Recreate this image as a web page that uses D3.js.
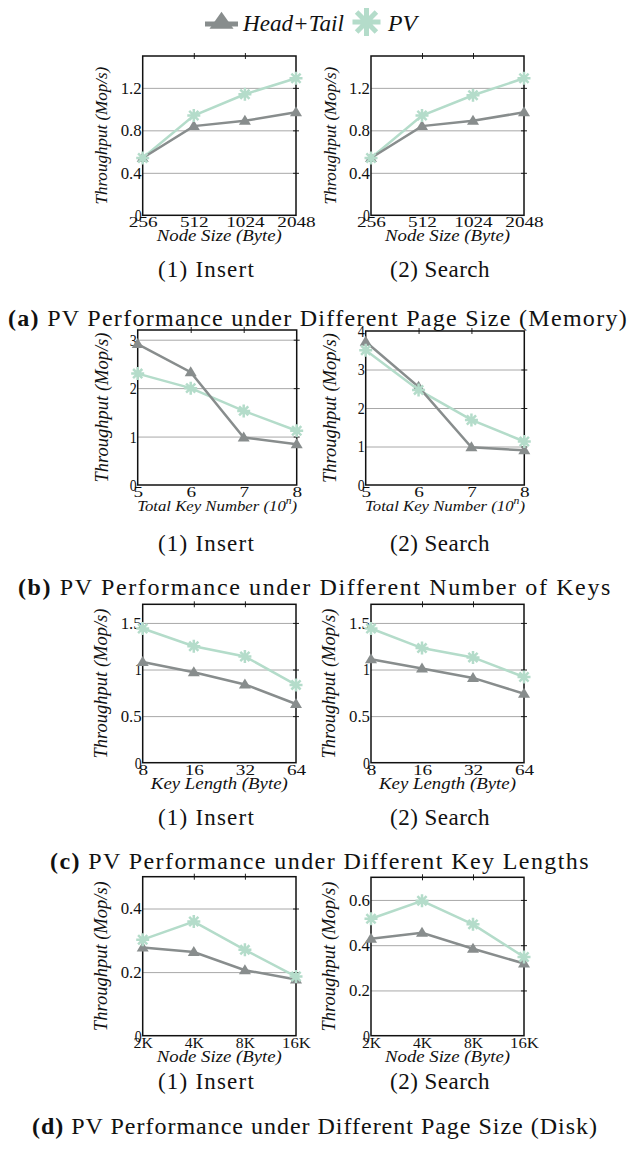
<!DOCTYPE html>
<html>
<head>
<meta charset="utf-8">
<script src="https://cdn.jsdelivr.net/npm/d3@7"></script>
<style>
  body { margin: 0; background: #fff; }
  text { font-family: "Liberation Serif", "DejaVu Serif", serif; fill: #111; }
</style>
</head>
<body>
<svg id="fig" width="632" height="1149"></svg>
<script>
// categories
const nodeSizesMem = ["256", "512", "1024", "2048"];
const keyExponents = ["5", "6", "7", "8"];
const keyLengths = ["8", "16", "32", "64"];
const nodeSizesDisk = ["2K", "4K", "8K", "16K"];

// series values (Mop/s)
const memInsertHT = [0.54, 0.84, 0.89, 0.97];
const memInsertPV = [0.54, 0.94, 1.14, 1.29];
const memSearchHT = [0.54, 0.84, 0.89, 0.97];
const memSearchPV = [0.54, 0.94, 1.13, 1.29];
const keysInsertHT = [2.91, 2.33, 0.98, 0.84];
const keysInsertPV = [2.3, 2.0, 1.53, 1.12];
const keysSearchHT = [3.72, 2.55, 0.98, 0.9];
const keysSearchPV = [3.5, 2.47, 1.69, 1.13];
const lenInsertHT = [1.08, 0.97, 0.84, 0.63];
const lenInsertPV = [1.44, 1.25, 1.14, 0.835];
const lenSearchHT = [1.11, 1.01, 0.91, 0.74];
const lenSearchPV = [1.44, 1.23, 1.13, 0.92];
const diskInsertHT = [0.277, 0.263, 0.206, 0.177];
const diskInsertPV = [0.302, 0.359, 0.27, 0.186];
const diskSearchHT = [0.428, 0.455, 0.384, 0.319];
const diskSearchPV = [0.517, 0.596, 0.492, 0.348];

// y tick labels
const memTicks = [0, 0.4, 0.8, 1.2];
const keysInsertTicks = [0, 1, 2, 3];
const keysSearchTicks = [0, 1, 2, 3, 4];
const lenTicks = [0, 0.5, 1, 1.5];
const diskInsertTicks = [0, 0.2, 0.4];
const diskSearchTicks = [0, 0.2, 0.4, 0.6];

const GRAY = "#888d8d";
const GREEN = "#b4dcca";

const svg = d3.select("#fig");

// scale font size so a text fills a given width
function fitWidth(sel, target) {
  const len = sel.node().getComputedTextLength();
  const fs = parseFloat(sel.attr("font-size"));
  sel.attr("font-size", fs * target / len);
}
// grow the font up to maxSize, then spread letters for the rest
function fitCaption(sel, target, maxSize) {
  fitWidth(sel, target);
  if (parseFloat(sel.attr("font-size")) > maxSize) {
    sel.attr("font-size", maxSize);
    const len = sel.node().getComputedTextLength();
    sel.attr("letter-spacing", (target - len) / sel.text().length);
  }
}

function asterisk(r) {
  const k = r * 0.7071;
  return `M${-r},0L${r},0M0,${-r}L0,${r}M${-k},${-k}L${k},${k}M${-k},${k}L${k},${-k}`;
}
function triangle(w, h) {
  return `M0,${-h * 0.6}L${w / 2},${h * 0.4}L${-w / 2},${h * 0.4}Z`;
}

// legend
const leg = svg.append("g");
leg.append("line").attr("x1", 205).attr("x2", 238).attr("y1", 24).attr("y2", 24)
  .attr("stroke", GRAY).attr("stroke-width", 5);
leg.append("path").attr("d", triangle(24, 17)).attr("transform", "translate(221.5,22)").attr("fill", GRAY);
leg.append("path").attr("d", asterisk(14)).attr("transform", "translate(366.5,22)")
  .attr("stroke", GREEN).attr("stroke-width", 5).attr("fill", "none");
let t = leg.append("text").attr("x", 243).attr("y", 31).attr("font-size", 22)
  .attr("font-style", "italic").text("Head+Tail");
fitWidth(t, 101);
t = leg.append("text").attr("x", 388).attr("y", 31).attr("font-size", 22)
  .attr("font-style", "italic").text("PV");
fitWidth(t, 29);

function panel(cfg) {
  const g = svg.append("g");
  const x = d3.scalePoint().domain(cfg.cats).range([cfg.left, cfg.right]);
  const y = d3.scaleLinear().domain([0, cfg.max]).range([cfg.bottom, cfg.top]);
  const w = cfg.right - cfg.left;
  const inner = cfg.ticks.filter(v => v > 0 && v < cfg.max);

  // grid
  g.append("g").attr("transform", `translate(${cfg.left},0)`)
    .call(d3.axisRight(y).tickValues(inner).tickSize(w).tickFormat(""))
    .call(a => a.select(".domain").remove())
    .call(a => a.selectAll("line").attr("stroke", "#a8a8a8").attr("stroke-width", 1));

  // right ticks
  g.append("g").attr("transform", `translate(${cfg.right - 3},0)`)
    .call(d3.axisRight(y).tickValues(inner).tickSize(6).tickFormat(""))
    .call(a => a.select(".domain").remove())
    .call(a => a.selectAll("line").attr("stroke", "#222").attr("stroke-width", 1));
  // top ticks
  g.append("g").attr("transform", `translate(0,${cfg.top + 3})`)
    .call(d3.axisTop(x).tickValues(cfg.cats.slice(1, -1)).tickSize(6).tickFormat(""))
    .call(a => a.select(".domain").remove())
    .call(a => a.selectAll("line").attr("stroke", "#222").attr("stroke-width", 1));

  // y tick labels
  g.append("g").attr("transform", `translate(${cfg.left},0)`)
    .call(d3.axisLeft(y).tickValues(cfg.ticks).tickSize(0).tickPadding(1).tickFormat(d => String(d)))
    .call(a => a.select(".domain").remove())
    .call(a => a.selectAll("text").attr("font-family", "Liberation Serif").attr("font-size", 17)
      .attr("fill", "#111").attr("textLength", d => String(d).length * 7).attr("lengthAdjust", "spacingAndGlyphs"));

  // x tick labels
  g.append("g").attr("transform", `translate(0,${cfg.bottom})`)
    .call(d3.axisBottom(x).tickSize(0).tickPadding(1))
    .call(a => a.select(".domain").remove())
    .call(a => a.selectAll("text").attr("font-family", "Liberation Serif").attr("font-size", 15.5)
      .attr("fill", "#111").attr("textLength", d => d.length * 9.6).attr("lengthAdjust", "spacingAndGlyphs"));

  // frame
  g.append("rect").attr("x", cfg.left).attr("y", cfg.top).attr("width", w)
    .attr("height", cfg.bottom - cfg.top).attr("fill", "none").attr("stroke", "#111").attr("stroke-width", 1.5);

  // axis titles
  const yl = g.append("text")
    .attr("transform", `translate(${cfg.left - cfg.ylabOff},${(cfg.top + cfg.bottom) / 2}) rotate(-90)`)
    .attr("text-anchor", "middle").attr("font-style", "italic").attr("font-size", 16)
    .text("Throughput (Mop/s)");
  fitWidth(yl, cfg.ylabW);

  const xl = g.append("text").attr("x", (cfg.left + cfg.right) / 2).attr("y", cfg.bottom + 26)
    .attr("text-anchor", "middle").attr("font-style", "italic").attr("font-size", cfg.xlabSize);
  if (cfg.xlab === "keys") {
    xl.append("tspan").text("Total Key Number (10");
    xl.append("tspan").attr("font-size", cfg.xlabSize * 0.7).attr("dy", -7).text("n");
    xl.append("tspan").attr("dy", 7).text(")");
  } else {
    xl.text(cfg.xlab);
  }
  xl.attr("textLength", cfg.xlabW).attr("lengthAdjust", "spacingAndGlyphs");

  const line = d3.line().x((d, i) => x(cfg.cats[i])).y(d => y(d));
  g.append("path").datum(cfg.pv).attr("d", line).attr("fill", "none")
    .attr("stroke", GREEN).attr("stroke-width", 2.5);
  g.append("path").datum(cfg.ht).attr("d", line).attr("fill", "none")
    .attr("stroke", GRAY).attr("stroke-width", 2.5);

  g.selectAll(".tri").data(cfg.ht).enter().append("path")
    .attr("d", triangle(12, 10))
    .attr("transform", (d, i) => `translate(${x(cfg.cats[i])},${y(d)})`)
    .attr("fill", GRAY);
  g.selectAll(".ast").data(cfg.pv).enter().append("path")
    .attr("d", asterisk(6.5))
    .attr("transform", (d, i) => `translate(${x(cfg.cats[i])},${y(d)})`)
    .attr("fill", "none").attr("stroke", GREEN).attr("stroke-width", 2.5);
}

function captions(subY, capY, capText, capBold, capCx, capW) {
  let s = svg.append("text").attr("x", 206.5).attr("y", subY).attr("text-anchor", "middle")
    .attr("font-size", 19).text("(1) Insert");
  fitCaption(s, 97, 23);
  s = svg.append("text").attr("x", 440).attr("y", subY).attr("text-anchor", "middle")
    .attr("font-size", 19).text("(2) Search");
  fitCaption(s, 100, 23);
  const c = svg.append("text").attr("x", capCx).attr("y", capY).attr("text-anchor", "middle")
    .attr("font-size", 19);
  c.append("tspan").attr("font-weight", "bold").text(capBold);
  c.append("tspan").text(" " + capText);
  fitCaption(c, capW, 24);
}

const L = [142.7, 296], R = [371, 524];

// (a) memory page size
panel({ cats: nodeSizesMem, ht: memInsertHT, pv: memInsertPV, ticks: memTicks, max: 1.5,
  left: L[0], right: L[1], top: 56, bottom: 215.3, ylabOff: 36, ylabW: 138,
  xlab: "Node Size (Byte)", xlabSize: 17, xlabW: 125 });
panel({ cats: nodeSizesMem, ht: memSearchHT, pv: memSearchPV, ticks: memTicks, max: 1.5,
  left: R[0], right: R[1], top: 56, bottom: 215.3, ylabOff: 35, ylabW: 138,
  xlab: "Node Size (Byte)", xlabSize: 17, xlabW: 125 });
captions(277, 326, "PV Performance under Different Page Size (Memory)", "(a)", 318, 620);

// (b) number of keys
panel({ cats: keyExponents, ht: keysInsertHT, pv: keysInsertPV, ticks: keysInsertTicks, max: 3.2,
  left: 137.7, right: 296.7, top: 330, bottom: 485, ylabOff: 30, ylabW: 150,
  xlab: "keys", xlabSize: 15, xlabW: 160 });
panel({ cats: keyExponents, ht: keysSearchHT, pv: keysSearchPV, ticks: keysSearchTicks, max: 4,
  left: 365.7, right: 524.3, top: 331, bottom: 485, ylabOff: 30, ylabW: 150,
  xlab: "keys", xlabSize: 15, xlabW: 160 });
captions(551, 595, "PV Performance under Different Number of Keys", "(b)", 315, 594);

// (c) key length
panel({ cats: keyLengths, ht: lenInsertHT, pv: lenInsertPV, ticks: lenTicks, max: 1.7,
  left: L[0], right: L[1], top: 604.3, bottom: 762.7, ylabOff: 36, ylabW: 150,
  xlab: "Key Length (Byte)", xlabSize: 17, xlabW: 137 });
panel({ cats: keyLengths, ht: lenSearchHT, pv: lenSearchPV, ticks: lenTicks, max: 1.7,
  left: R[0], right: R[1], top: 604.3, bottom: 762.7, ylabOff: 36, ylabW: 150,
  xlab: "Key Length (Byte)", xlabSize: 17, xlabW: 137 });
captions(825, 869, "PV Performance under Different Key Lengths", "(c)", 320, 540);

// (d) disk page size
panel({ cats: nodeSizesDisk, ht: diskInsertHT, pv: diskInsertPV, ticks: diskInsertTicks, max: 0.5,
  left: L[0], right: L[1], top: 876.7, bottom: 1035.7, ylabOff: 36, ylabW: 150,
  xlab: "Node Size (Byte)", xlabSize: 17, xlabW: 125 });
panel({ cats: nodeSizesDisk, ht: diskSearchHT, pv: diskSearchPV, ticks: diskSearchTicks, max: 0.7,
  left: R[0], right: R[1], top: 877.3, bottom: 1035.7, ylabOff: 36, ylabW: 150,
  xlab: "Node Size (Byte)", xlabSize: 17, xlabW: 125 });
captions(1089, 1134, "PV Performance under Different Page Size (Disk)", "(d)", 315, 566);
</script>
</body>
</html>
